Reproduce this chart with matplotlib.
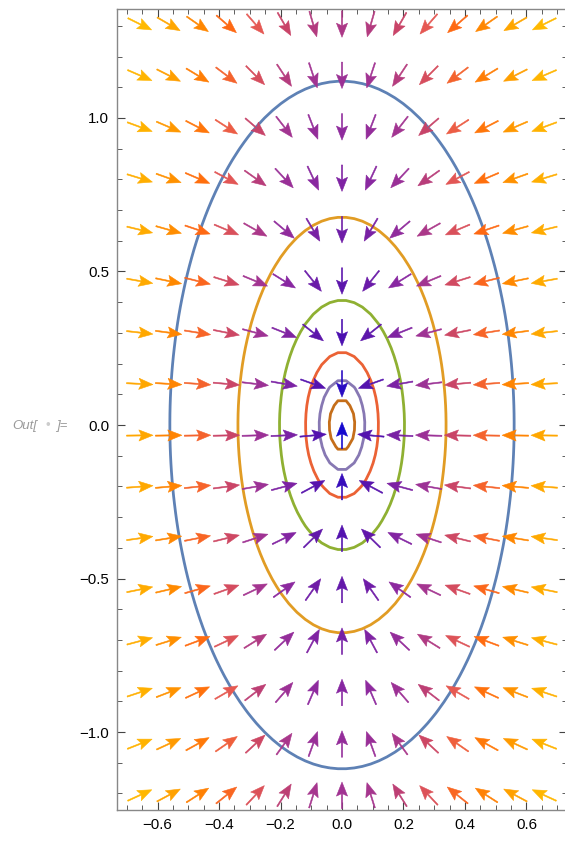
import matplotlib
matplotlib.use("Agg")
import matplotlib.pyplot as plt
import numpy as np
from matplotlib.colors import LinearSegmentedColormap, Normalize
from matplotlib.ticker import MultipleLocator

plt.rcParams['font.family'] = ['Liberation Sans', 'DejaVu Sans']

# grid of the vector field
x_cols = [-0.658, -0.564, -0.470, -0.376, -0.282, -0.188, -0.094, 0.0,
          0.094, 0.188, 0.282, 0.376, 0.470, 0.564, 0.658]
y_rows = [-1.206, -1.039, -0.871, -0.704, -0.536, -0.369, -0.201, -0.034,
          0.134, 0.301, 0.469, 0.636, 0.804, 0.971, 1.139, 1.306]

# potential f = 4 x^2 + y^2, arrows show -grad f
coef_x = 4.0
coef_y = 1.0

# contour values of f (one ellipse each)
contour_levels = [0.0068, 0.0215, 0.056, 0.165, 0.458, 1.254]
contour_colors = ['#c56e1a', '#8778b3', '#eb6235', '#8fb032', '#e19c24', '#5e81b5']

# arrow colour by magnitude
mag_stops = [0.0, 0.6, 1.2, 1.8, 2.5, 3.0, 3.5, 4.0, 4.6, 5.2, 5.9]
mag_colors = ['#1008d0', '#4c10b0', '#6a1aa8', '#8a28a0', '#a43590', '#c84468',
              '#e85a50', '#ff6a10', '#ff8800', '#ffa500', '#ffba00']

fig = plt.figure(figsize=(5.65, 8.42), dpi=100)
ax = fig.add_axes([117 / 565, 32 / 842, 450 / 565, 801 / 842])

# contours
gx = np.linspace(-0.73, 0.73, 56)
gy = np.linspace(-1.25, 1.35, 98)
GX, GY = np.meshgrid(gx, gy)
F = np.log(coef_x * GX ** 2 + coef_y * GY ** 2)
ax.contour(GX, GY, F, levels=np.log(contour_levels), colors=contour_colors,
           linewidths=2.0, zorder=2)

# vector field
X, Y = np.meshgrid(x_cols, y_rows)
U = -2 * coef_x * X
V = -2 * coef_y * Y
M = np.hypot(U, V)
arrow_len = 0.086
cmap = LinearSegmentedColormap.from_list(
    'vf', list(zip(np.array(mag_stops) / mag_stops[-1], mag_colors)))
ax.quiver(X, Y, U / M * arrow_len, V / M * arrow_len, M, cmap=cmap,
          norm=Normalize(0, mag_stops[-1]), angles='xy', scale_units='xy',
          scale=1, pivot='middle', width=0.0026, headwidth=9.5,
          headlength=12, headaxislength=10, minshaft=0.5,
          linewidths=0.4, edgecolors='face', zorder=3)

ax.set_xlim(-0.732, 0.732)
ax.set_ylim(-1.254, 1.355)

ax.xaxis.set_major_locator(MultipleLocator(0.2))
ax.xaxis.set_minor_locator(MultipleLocator(0.05))
ax.yaxis.set_major_locator(MultipleLocator(0.5))
ax.yaxis.set_minor_locator(MultipleLocator(0.1))
ax.tick_params(which='both', direction='in', top=True, right=True,
               color='#444444', labelsize=10.8, pad=5.5)
ax.tick_params(which='major', length=5.8, width=0.8)
ax.tick_params(which='minor', length=3.6, width=0.6)
for s in ax.spines.values():
    s.set_color('#888888')
    s.set_linewidth(1.0)

fig.text(12 / 565, 1 - 429 / 842, 'Out[', color='#999999', style='italic',
         fontsize=9.5, va='baseline')
fig.text(45 / 565, 1 - 429 / 842, '\u2022', color='#cccccc',
         fontsize=9.5, va='baseline')
fig.text(56 / 565, 1 - 429 / 842, ']=', color='#999999', style='italic',
         fontsize=9.5, va='baseline')

fig.savefig("out.png", dpi=100)
